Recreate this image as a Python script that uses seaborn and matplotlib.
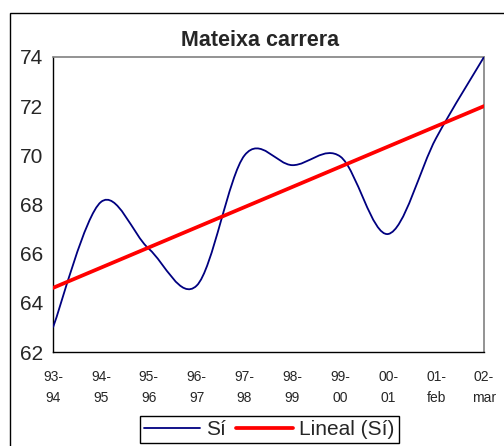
"""Mateixa carrera - smoothed line with linear trend"""
import matplotlib

matplotlib.use("Agg")
import matplotlib.pyplot as plt
import numpy as np
import seaborn as sns
from matplotlib.lines import Line2D
from matplotlib.patches import PathPatch, Rectangle
from matplotlib.path import Path

# Data
periods = ["93-\n94", "94-\n95", "95-\n96", "96-\n97", "97-\n98",
           "98-\n99", "99-\n00", "00-\n01", "01-\nfeb", "02-\nmar"]
si_values = [63.0, 68.1, 66.2, 64.7, 70.0, 69.6, 69.95, 66.8, 70.7, 74.0]

title = "Mateixa carrera"
series_name = "Sí"
trend_name = "Lineal (Sí)"

sns.set_style("white")
plt.rcParams["font.family"] = ["Liberation Sans", "DejaVu Sans"]

fig = plt.figure(figsize=(5.04, 4.46), dpi=100)
ax = fig.add_axes([53 / 504, 1 - 352 / 446, (484 - 53) / 504, (352 - 57) / 446])

x = np.arange(len(si_values))
y = np.array(si_values, dtype=float)

# Excel-like smoothed line: cubic bezier segments through the data points
pts = np.column_stack([x, y])
ext = np.vstack([pts[0], pts, pts[-1]])
verts = [tuple(pts[0])]
codes = [Path.MOVETO]
for i in range(len(pts) - 1):
    p0, p1, p2, p3 = ext[i], ext[i + 1], ext[i + 2], ext[i + 3]
    c1 = p1 + (p2 - p0) / 6.0
    c2 = p2 - (p3 - p1) / 6.0
    verts += [tuple(c1), tuple(c2), tuple(p2)]
    codes += [Path.CURVE4] * 3
ax.add_patch(PathPatch(Path(verts, codes), fill=False, edgecolor="#000080",
                       lw=1.3, zorder=3))

# linear trend
sns.regplot(x=x, y=y, ax=ax, ci=None, scatter=False, truncate=True,
            line_kws={"color": "#ff0000", "lw": 2.7, "zorder": 4})

ax.set_xlim(0, len(si_values) - 1)
ax.set_ylim(62, 74)
ax.set_yticks(range(62, 75, 2))
ax.set_xticks(x)
ax.set_xticklabels(periods, fontsize=10, linespacing=1.6)
ax.tick_params(axis="y", labelsize=15, direction="inout", length=8, width=0.9, pad=3)
ax.tick_params(axis="x", direction="inout", length=6, width=0.9, pad=10)
ax.set_xlabel("")
ax.set_ylabel("")

for side in ["left", "bottom"]:
    ax.spines[side].set_color("black")
    ax.spines[side].set_linewidth(1.0)
for side in ["top", "right"]:
    ax.spines[side].set_color("#808080")
    ax.spines[side].set_linewidth(1.2)

fig.text(260 / 504, 1 - 40 / 446, title, ha="center", va="center",
         fontsize=15.5, fontweight="bold")

handles = [Line2D([], [], color="#000080", lw=1.3),
           Line2D([], [], color="#ff0000", lw=2.7)]
fig.legend(handles, [series_name, trend_name], loc="upper center",
           bbox_to_anchor=(269 / 504, 1 - 416 / 446), ncol=2, fontsize=15,
           frameon=True, fancybox=False, edgecolor="black", framealpha=1,
           handlelength=2.7, columnspacing=0.5, handletextpad=0.3,
           borderpad=0.2, borderaxespad=0)

# outer chart frame
fig.patches.append(Rectangle((10 / 504, -0.1), 1.0, 1.1 - 13 / 446,
                             transform=fig.transFigure, fill=False,
                             edgecolor="black", lw=1.0))

fig.savefig("out.png", dpi=100)
